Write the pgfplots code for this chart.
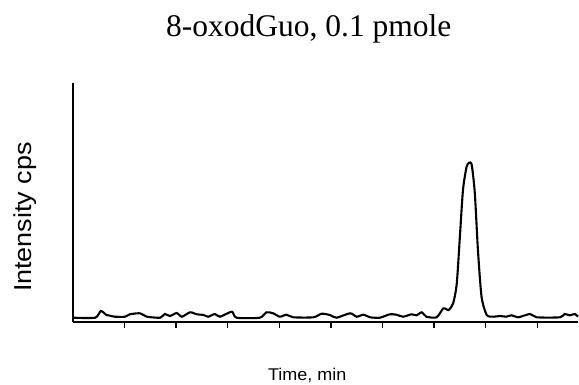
\documentclass[border=0pt]{standalone}
\usepackage{pgfplots}
\pgfplotsset{compat=1.18}
\usepackage{fontspec}
\setmainfont{Liberation Serif}
\setsansfont{Liberation Sans}
\begin{document}
\begin{tikzpicture}[x=1pt,y=1pt]
\begin{axis}[
  at={(73pt,62pt)}, anchor=south west,
  scale only axis, width=505pt, height=239pt,
  xmin=0, xmax=9.79, ymin=0, ymax=239,
  axis x line=bottom, axis y line=left,
  axis line style={-, line width=1.8pt},
  xtick={1,2,3,4,5,6,7,8,9}, xticklabels={},
  ytick=\empty,
  tick align=outside, major tick length=6pt,
  xtick style={line width=1.4pt, black},
  clip=false,
  title={8-oxodGuo, 0.1 pmole},
  title style={at={(axis description cs:0.467,1.1715)}, anchor=base, font=\fontsize{31.5}{36}\selectfont},
  xlabel={\scalebox{1.06}[1]{Time, min}},
  xlabel style={at={(axis description cs:0.464,-0.2427)}, anchor=base, font=\sffamily\fontsize{17}{20}\selectfont},
  ylabel={\scalebox{1.1}[1]{Intensity cps}},
  ylabel style={at={(axis description cs:-0.0812,0.439)}, anchor=base, rotate=0, font=\sffamily\fontsize{24.5}{28}\selectfont},
]
\addplot[black, line width=2.1pt, smooth, tension=0.4] coordinates {
(0.01,4.3) (0.43,4.3) (0.54,11) (0.65,7) (0.72,6.3) (0.81,5.3) (1.01,5.3) (1.10,7.7)
(1.30,8.7) (1.43,5.3) (1.69,4.3) (1.78,8) (1.88,6) (2.01,9) (2.11,5.3) (2.27,9.7)
(2.40,7.7) (2.53,7) (2.62,5.3) (2.75,8) (2.85,5.3) (3.08,10.3) (3.17,4.3) (3.62,4.3)
(3.75,9.7) (3.88,8.7) (4.01,5.3) (4.14,7.3) (4.27,4.7) (4.66,4.7) (4.82,8.3) (4.98,7)
(5.11,4.3) (5.37,8.7) (5.50,5.3) (5.63,7.3) (5.76,4.7) (5.95,4.3) (6.14,7.7) (6.27,7.3)
(6.40,5.3) (6.56,7.7) (6.66,6.7) (6.76,9.7) (6.85,5.3) (7.05,4.7) (7.18,13.7) (7.28,12)
(7.37,18.7) (7.44,38.7) (7.50,85.3) (7.56,132) (7.63,155.3) (7.68,159.3) (7.73,157)
(7.79,128.7) (7.85,72) (7.92,25.3) (8.02,7) (8.15,5.3) (8.28,6) (8.40,5.3) (8.50,6.7)
(8.63,4.7) (8.86,8) (8.99,4.7) (9.44,4.7) (9.53,8) (9.63,6.7) (9.73,8) (9.79,5.3)
};
\end{axis}
\pgfresetboundingbox
\useasboundingbox (0,0) rectangle (579pt,384pt);
\end{tikzpicture}
\end{document}
